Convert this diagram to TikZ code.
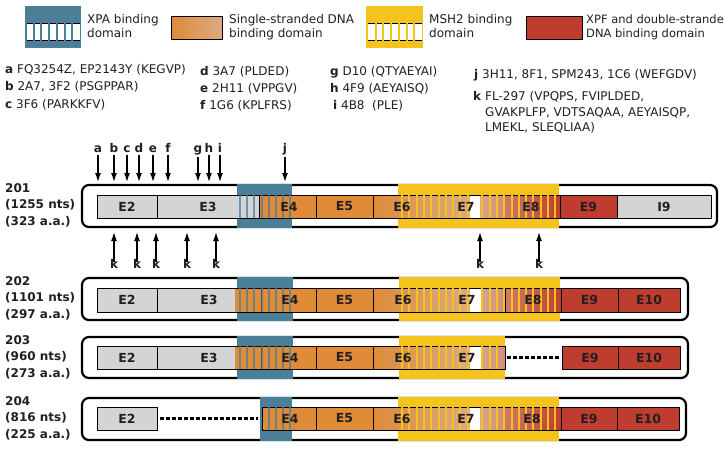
\documentclass[tikz,border=0pt]{standalone}
\usepackage{fontspec}
\setmainfont{DejaVu Sans}
\usetikzlibrary{arrows.meta}
\definecolor{xpa}{HTML}{4B7F98}
\definecolor{msh}{HTML}{F4C41D}
\definecolor{org}{HTML}{DF8B37}
\definecolor{redd}{HTML}{BF3D2E}
\definecolor{gry}{HTML}{D3D4D6}
\definecolor{txt}{HTML}{231F20}
\definecolor{tanA}{HTML}{DA9E6A}
\definecolor{tanB}{HTML}{DBAA84}
\definecolor{tanC}{HTML}{D8A590}
\definecolor{tanD}{HTML}{D28E78}
\definecolor{pinkA}{HTML}{CF7C68}
\def\bstrA{240,247.2,254.4,261.6,268.8,276,283.2,290.4}
\def\bstrB{268.8,276,283.2,290.4}
\def\ystrA{402,409.3,416.6,423.9,431.2,438.5,445.8,453.1,460.4,467.7,482.3,489.6,496.9}
\def\ystrB{504.2,511.5,518.8,526.1,533.4,540.7,548,555.3}
\begin{document}
\begin{tikzpicture}[x=1pt,y=-1pt,
  every node/.style={text=txt, inner sep=0pt},
  outerbox/.style={draw=black,line width=2.2pt,rounded corners=7pt},
  exline/.style={draw=black,line width=0.75pt},
  bstripe/.style={draw=xpa, opacity=0.75, line width=2pt},
  ystripe/.style={draw=msh, line width=2pt},
  elab/.style={font=\bfseries\fontsize{12.5}{12.5}\selectfont},
  rlab/.style={font=\bfseries\fontsize{12}{12}\selectfont, anchor=base west},
  ltext/.style={font=\fontsize{12}{14}\selectfont, anchor=base west},
  alab/.style={font=\bfseries\fontsize{12}{12}\selectfont, anchor=base},
  arr/.style={-{Latex[length=9pt,width=6pt]}, line width=1.3pt},
  dots/.style={line width=3pt, dash pattern=on 3.5pt off 2.5pt}]
\useasboundingbox (0,0) rectangle (726,451);
\fill[white] (0,0) rectangle (726,451);

% ---------- legend ----------
\fill[xpa] (25,6) rectangle (81,48);
\fill[white] (26.5,23) rectangle (80,40);
\draw[line width=1pt] (26.5,23) -- (80,23) (26.5,40) -- (80,40);
\foreach \x in {33.7,41.4,49.1,56.9,64.6,72.3} \draw[xpa,line width=2pt] (\x,22) -- (\x,41);
\node[ltext] (lx1) at (87,23) {XPA binding};
\node[ltext] (lx2) at (87,37) {domain};

\shadedraw[left color=org,right color=tanB,draw=black,line width=1pt] (171,16) rectangle (222,39);
\node[ltext] (lo1) at (229,23) {Single-stranded DNA};
\node[ltext] (lo2) at (229,37) {binding domain};

\fill[msh] (366,6) rectangle (423,48);
\fill[white] (368,23) rectangle (422,40);
\draw[line width=1pt] (368,23) -- (422,23) (368,40) -- (422,40);
\foreach \x in {375.7,383.4,391.1,398.9,406.6,414.3} \draw[msh,line width=2pt] (\x,22) -- (\x,41);
\node[ltext] (lm1) at (429,23) {MSH2 binding};
\node[ltext] (lm2) at (429,37) {domain};

\filldraw[fill=redd,draw=black,line width=1pt] (526,16) rectangle (582,39);
\node[ltext,font=\fontsize{11.5}{14}\selectfont] (lr1) at (586,23) {XPF and double-strande};
\node[ltext,font=\fontsize{11.5}{14}\selectfont] (lr2) at (586,37) {DNA binding domain};

% ---------- antibody list ----------
\node[ltext] (ab1) at (5,73) {\textbf{a} FQ3254Z, EP2143Y (KEGVP)};
\node[ltext] (ab2) at (5,90) {\textbf{b} 2A7, 3F2 (PSGPPAR)};
\node[ltext] (ab3) at (5,108) {\textbf{c} 3F6 (PARKKFV)};
\node[ltext] (ab4) at (200,75) {\textbf{d} 3A7 (PLDED)};
\node[ltext] (ab5) at (200,92) {\textbf{e} 2H11 (VPPGV)};
\node[ltext] (ab6) at (200,109) {\textbf{f} 1G6 (KPLFRS)};
\node[ltext] (ab7) at (330,75) {\textbf{g} D10 (QTYAEYAI)};
\node[ltext] (ab8) at (330,92) {\textbf{h} 4F9 (AEYAISQ)};
\node[ltext] (ab9) at (333,109) {\textbf{i} 4B8\ \ (PLE)};
\node[ltext] (ab10) at (474,78) {\textbf{j} 3H11, 8F1, SPM243, 1C6 (WEFGDV)};
\node[ltext] (ab11) at (473,100) {\textbf{k} FL-297 (VPQPS, FVIPLDED,};
\node[ltext] (ab12) at (485,116) {GVAKPLFP, VDTSAQAA, AEYAISQP,};
\node[ltext] (ab13) at (485,131) {LMEKL, SLEQLIAA)};

% ---------- row 201 ----------
\draw[outerbox] (82,185) rectangle (717,227);
\fill[xpa] (237,184) rectangle (292,228);
\fill[msh] (398,184) rectangle (559,228);
\fill[gry] (97,195) rectangle (259,218);
\fill[org] (259,195) rectangle (373,218);
\shade[left color=org,right color=tanA] (373,195) rectangle (430,218);
\shade[left color=tanA,right color=tanB] (430,195) rectangle (470,218);
\fill[white] (470,195) rectangle (480,218);
\shade[left color=tanC,right color=tanD] (480,195) rectangle (503,218);
\shade[left color=pinkA,right color=redd] (503,195) rectangle (560,218);
\fill[redd] (560,195) rectangle (617,218);
\fill[gry] (617,195) rectangle (711,218);
\draw[exline] (97,195) rectangle (711,218);
\foreach \x in {157,259,316,373,430,503,560,617} \draw[exline] (\x,195) -- (\x,218);
\foreach \x in \bstrA \draw[bstripe] (\x,195) -- (\x,218);
\foreach \x in \ystrA \draw[ystripe] (\x,195) -- (\x,218);
\foreach \x in \ystrB \draw[ystripe] (\x,195) -- (\x,218);
\node[elab] (a2) at (127,206.5) {E2};
\node[elab] (a3) at (208,206.5) {E3};
\node[elab] (a4) at (289,206.5) {E4};
\node[elab] (a5) at (344.5,206.5) {E5};
\node[elab] (a6) at (402,206.5) {E6};
\node[elab] (a7) at (466,206.5) {E7};
\node[elab] (a8) at (531,206.5) {E8};
\node[elab] (a9) at (588.5,206.5) {E9};
\node[elab] (a10) at (664,206.5) {I9};
\node[rlab] (n1a) at (5,192) {201};
\node[rlab] (n1b) at (5,208.5) {(1255 nts)};
\node[rlab] (n1c) at (5,225) {(323 a.a.)};

% ---------- arrows ----------
\foreach \n/\x in {a/98,b/114,c/127,d/139,e/153,f/168,g/198,h/209,i/220,j/285} {
  \node[alab] (t\n) at (\x,152) {\n};
  \coordinate (tt\n) at (\x,182);
  \draw[arr,shorten <=2.5pt] (t\n.south) -- (tt\n);
}
\foreach \i/\x in {1/114,2/137,3/156,4/187,5/216,6/480,7/539} {
  \node[alab] (k\i) at (\x,268) {k};
  \coordinate (kt\i) at (\x,232);
  \draw[arr,shorten <=-3pt] (k\i.north) -- (kt\i);
}

% ---------- row 202 ----------
\draw[outerbox] (82,278) rectangle (688,320);
\fill[xpa] (237,277) rectangle (293,321);
\fill[msh] (399,277) rectangle (560,321);
\fill[gry] (97,288) rectangle (235,312);
\fill[org] (235,288) rectangle (373,312);
\shade[left color=org,right color=tanA] (373,288) rectangle (431,312);
\shade[left color=tanA,right color=tanB] (431,288) rectangle (470,312);
\fill[white] (470,288) rectangle (481,312);
\shade[left color=tanC,right color=tanD] (481,288) rectangle (505,312);
\shade[left color=pinkA,right color=redd] (505,288) rectangle (561,312);
\fill[redd] (561,288) rectangle (680,312);
\draw[exline] (97,288) rectangle (680,312);
\foreach \x in {157,261,316,373,431,505,561,618} \draw[exline] (\x,288) -- (\x,312);
\foreach \x in \bstrA \draw[bstripe] (\x,288) -- (\x,312);
\foreach \x in \ystrA \draw[ystripe] (\x,288) -- (\x,312);
\foreach \x in \ystrB \draw[ystripe] (\x,288) -- (\x,312);
\node[elab] (b2) at (127,300) {E2};
\node[elab] (b3) at (209,300) {E3};
\node[elab] (b4) at (290,300) {E4};
\node[elab] (b5) at (344.5,300) {E5};
\node[elab] (b6) at (403,300) {E6};
\node[elab] (b7) at (467,300) {E7};
\node[elab] (b8) at (533,300) {E8};
\node[elab] (b9) at (589.5,300) {E9};
\node[elab] (b10) at (649,300) {E10};
\node[rlab] (n2a) at (5,285) {202};
\node[rlab] (n2b) at (5,301.5) {(1101 nts)};
\node[rlab] (n2c) at (5,318) {(297 a.a.)};

% ---------- row 203 ----------
\draw[outerbox] (82,337) rectangle (688,378);
\fill[xpa] (237,336) rectangle (293,379);
\fill[msh] (399,336) rectangle (505,379);
\fill[gry] (97,346) rectangle (235,369);
\fill[org] (235,346) rectangle (373,369);
\shade[left color=org,right color=tanA] (373,346) rectangle (431,369);
\shade[left color=tanA,right color=tanB] (431,346) rectangle (470,369);
\fill[white] (470,346) rectangle (481,369);
\shade[left color=tanC,right color=tanD] (481,346) rectangle (505,369);
\draw[exline] (97,346) rectangle (505,369);
\foreach \x in {157,261,316,373,431} \draw[exline] (\x,346) -- (\x,369);
\foreach \x in \bstrA \draw[bstripe] (\x,346) -- (\x,369);
\foreach \x in \ystrA \draw[ystripe] (\x,346) -- (\x,369);
\coordinate (d3a) at (507,357.5);
\coordinate (d3b) at (560,357.5);
\draw[dots] (d3a) -- (d3b);
\filldraw[fill=redd,draw=black,line width=0.75pt] (562,346) rectangle (680,369);
\draw[exline] (618,346) -- (618,369);
\node[elab] (c2) at (127,357.5) {E2};
\node[elab] (c3) at (209,357.5) {E3};
\node[elab] (c4) at (290,357.5) {E4};
\node[elab] (c5) at (344.5,357.5) {E5};
\node[elab] (c6) at (403,357.5) {E6};
\node[elab] (c7) at (467,357.5) {E7};
\node[elab] (c9) at (590,357.5) {E9};
\node[elab] (c10) at (649,357.5) {E10};
\node[rlab] (n3a) at (5,344) {203};
\node[rlab] (n3b) at (5,360.5) {(960 nts)};
\node[rlab] (n3c) at (5,377) {(273 a.a.)};

% ---------- row 204 ----------
\draw[outerbox] (82,398) rectangle (686,440);
\fill[xpa] (260,397) rectangle (292,441);
\fill[msh] (398,397) rectangle (559,441);
\filldraw[fill=gry,draw=black,line width=0.75pt] (97,407) rectangle (157,430);
\coordinate (d4a) at (160,418.5);
\coordinate (d4b) at (258,418.5);
\draw[dots] (d4a) -- (d4b);
\fill[org] (262,407) rectangle (373,430);
\shade[left color=org,right color=tanA] (373,407) rectangle (431,430);
\shade[left color=tanA,right color=tanB] (431,407) rectangle (470,430);
\fill[white] (470,407) rectangle (480,430);
\shade[left color=tanC,right color=tanD] (480,407) rectangle (504,430);
\shade[left color=pinkA,right color=redd] (504,407) rectangle (561,430);
\fill[redd] (561,407) rectangle (679,430);
\draw[exline] (262,407) rectangle (679,430);
\foreach \x in {316,373,431,504,561,617} \draw[exline] (\x,407) -- (\x,430);
\foreach \x in \bstrB \draw[bstripe] (\x,407) -- (\x,430);
\foreach \x in \ystrA \draw[ystripe] (\x,407) -- (\x,430);
\foreach \x in \ystrB \draw[ystripe] (\x,407) -- (\x,430);
\node[elab] (e2) at (127,418.5) {E2};
\node[elab] (e4) at (290,418.5) {E4};
\node[elab] (e5) at (344.5,418.5) {E5};
\node[elab] (e6) at (402,418.5) {E6};
\node[elab] (e7) at (466,418.5) {E7};
\node[elab] (e8) at (532,418.5) {E8};
\node[elab] (e9) at (589,418.5) {E9};
\node[elab] (e10) at (648,418.5) {E10};
\node[rlab] (n4a) at (5,405) {204};
\node[rlab] (n4b) at (5,421.5) {(816 nts)};
\node[rlab] (n4c) at (5,438) {(225 a.a.)};
\end{tikzpicture}
\end{document}
